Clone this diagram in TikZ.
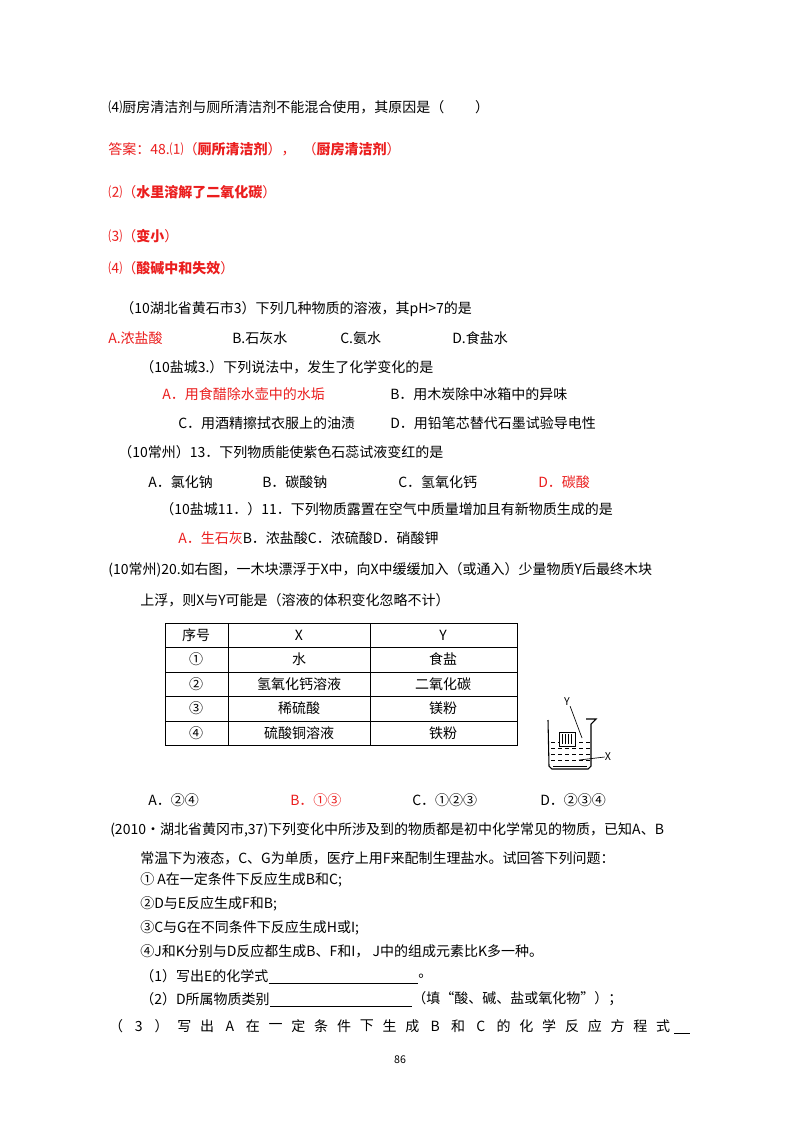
\documentclass[tikz,border=0pt]{standalone}
\usepackage{fontspec}
\setmainfont{Noto Sans CJK SC}
\definecolor{ansred}{RGB}{235,30,30}
\begin{document}
\begin{tikzpicture}[x=0.75pt,y=-0.75pt,
  t/.style={anchor=west,inner sep=0pt,font=\fontsize{10.5}{12}\selectfont},
  r/.style={t,text=ansred},
  rb/.style={t,text=ansred,font=\fontsize{10.5}{12}\selectfont\bfseries},
  c/.style={inner sep=0pt,font=\fontsize{10.5}{12}\selectfont}]
\useasboundingbox[fill=white] (0,0) rectangle (800,1132);
\node[t] (l1) at (108,107) {⑷厨房清洁剂与厕所清洁剂不能混合使用，其原因是（\hspace{2.2em}）};
\node[r] (l2) at (108,149) {答案：48.⑴（\textbf{厕所清洁剂}），\hspace{0.5em}（\textbf{厨房清洁剂}）};
\node[r] (l3) at (108,192) {⑵（\textbf{水里溶解了二氧化碳}）};
\node[r] (l4) at (108,236) {⑶（\textbf{变小}）};
\node[r] (l5) at (108,268) {⑷（\textbf{酸碱中和失效}）};
\node[t] (q1) at (120,309) {（10湖北省黄石市3）下列几种物质的溶液，其pH>7的是};
\node[r] (q1a) at (108,338) {A.浓盐酸};
\node[t] (q1b) at (232,338) {B.石灰水};
\node[t] (q1c) at (340,338) {C.氨水};
\node[t] (q1d) at (452,338) {D.食盐水};
\node[t] (q2) at (140,367) {（10盐城3.）下列说法中，发生了化学变化的是};
\node[r] (q2a) at (162,394) {A．用食醋除水壶中的水垢};
\node[t] (q2b) at (390,394) {B．用木炭除中冰箱中的异味};
\node[t] (q2c) at (178,423) {C．用酒精擦拭衣服上的油渍};
\node[t] (q2d) at (390,423) {D．用铅笔芯替代石墨试验导电性};
\node[t] (q3) at (118,452) {（10常州）13．下列物质能使紫色石蕊试液变红的是};
\node[t] (q3a) at (148,482) {A．氯化钠};
\node[t] (q3b) at (262,482) {B．碳酸钠};
\node[t] (q3c) at (398,482) {C．氢氧化钙};
\node[r] (q3d) at (538,482) {D．碳酸};
\node[t] (q4) at (160,509) {（10盐城11．）11．下列物质露置在空气中质量增加且有新物质生成的是};
\node[t] (q4a) at (178,538) {\textcolor{ansred}{A．生石灰}B．浓盐酸C．浓硫酸D．硝酸钾};
\node[t] (q5) at (108,570) {(10常州)20.如右图，一木块漂浮于X中，向X中缓缓加入（或通入）少量物质Y后最终木块};
\node[t] (q5b) at (140,600) {上浮，则X与Y可能是（溶液的体积变化忽略不计）};
% table
\draw[line width=0.6pt] (165,623) rectangle (517,745);
\foreach \yy in {647,672,696,721} \draw[line width=0.6pt] (165,\yy) -- (517,\yy);
\draw[line width=0.6pt] (228,623) -- (228,745) (370,623) -- (370,745);
\node[c] (h1) at (196,635) {序号}; \node[c] (h2) at (299,635) {X}; \node[c] (h3) at (443,635) {Y};
\node[c] (a1) at (196,659) {①}; \node[c] (a2) at (299,659) {水}; \node[c] (a3) at (443,659) {食盐};
\node[c] (b1) at (196,684) {②}; \node[c] (b2) at (299,684) {氢氧化钙溶液}; \node[c] (b3) at (443,684) {二氧化碳};
\node[c] (c1) at (196,708) {③}; \node[c] (c2) at (299,708) {稀硫酸}; \node[c] (c3) at (443,708) {镁粉};
\node[c] (d1) at (196,733) {④}; \node[c] (d2) at (299,733) {硫酸铜溶液}; \node[c] (d3) at (443,733) {铁粉};
% beaker
\draw[line width=0.8pt] (548,720) -- (549,766) -- (552,769) -- (588,769) -- (591,766) -- (591,724) -- (596,719) -- (586,719);
\draw[line width=0.5pt] (553,766) -- (587,766);
\foreach \yy in {742,748,754,760} \foreach \xx in {551,558,...,586} \draw[line width=0.6pt] (\xx,\yy) -- (\xx+4,\yy);
\draw[line width=0.6pt,fill=white] (559,732) rectangle (575,746);
\draw[line width=0.4pt] (562,734) -- (562,744) (565,734) -- (565,744) (568,734) -- (568,744) (571,734) -- (571,744);
\node[c,font=\fontsize{8}{9}\selectfont] (Y) at (567,702) {Y};
\coordinate (ytip) at (582,738);
\draw[line width=0.5pt] (Y.south east) -- (ytip);
\node[c,font=\fontsize{8}{9}\selectfont] (X) at (608,757) {X};
\coordinate (xtip) at (579,760);
\draw[line width=0.5pt] (X.west) -- (xtip);
% answers
\node[t] (q5a) at (148,800) {A．②④};
\node[r] (q5bb) at (290,800) {B．①③};
\node[t] (q5c) at (412,800) {C．①②③};
\node[t] (q5d) at (540,800) {D．②③④};
\node[t] (q6) at (110,830) {(2010•湖北省黄冈市,37)下列变化中所涉及到的物质都是初中化学常见的物质，已知A、B};
\node[t] (q6b) at (140,858) {常温下为液态，C、G为单质，医疗上用F来配制生理盐水。试回答下列问题：};
\node[t] (s1) at (140,880) {① A在一定条件下反应生成B和C;};
\node[t] (s2) at (140,904) {②D与E反应生成F和B;};
\node[t] (s3) at (140,928) {③C与G在不同条件下反应生成H或I;};
\node[t] (s4) at (140,951) {④J和K分别与D反应都生成B、F和I，\ J中的组成元素比K多一种。};
\node[t] (p1) at (140,976) {（1）写出E的化学式};
\draw[line width=0.5pt] (p1.east|-0,983) -- (418,983);
\node[t] (p1e) at (418,976) {。};
\node[t] (p2) at (140,999) {（2）D所属物质类别};
\draw[line width=0.5pt] (p2.east|-0,1006) -- (412,1006);
\node[t] (p2e) at (412,999) {（填“酸、碱、盐或氧化物”）；};
\foreach \ch [count=\i] in {（,3,）,写,出,A,在,一,定,条,件,下,生,成,B,和,C,的,化,学,反,应,方,程,式}
  \node[c] (k\i) at (116+22.8*\i-22.8,1026) {\ch};
\draw[line width=0.5pt] (674,1033) -- (690,1033);
\node[c,font=\fontsize{8}{9}\selectfont] (pg) at (400,1060) {86};
\end{tikzpicture}
\end{document}
